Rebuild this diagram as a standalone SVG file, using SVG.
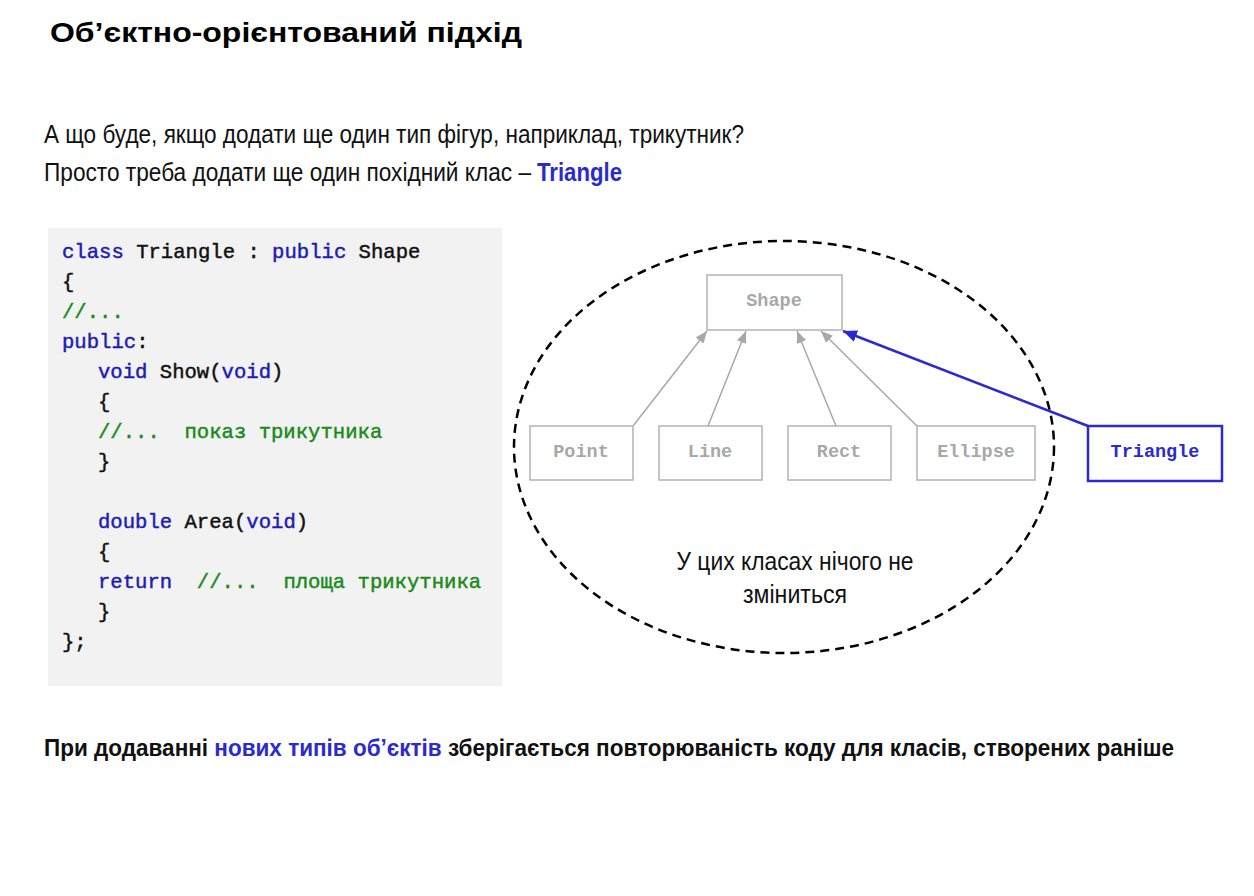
<svg xmlns="http://www.w3.org/2000/svg" width="1254" height="896" viewBox="0 0 1254 896">
<style>
.sans{font-family:"Liberation Sans",Arial,sans-serif}
.mono{font-family:"Liberation Mono","Courier New",monospace;font-size:20.6px}
.kw{fill:#1c1cb4;stroke:#1c1cb4;stroke-width:0.45}
.cm{fill:#1a8a1a;stroke:#1a8a1a;stroke-width:0.45}
.tx{fill:#111;stroke:#111;stroke-width:0.45}
.box{fill:#fff;stroke:#b3b3b3;stroke-width:1.5}
.lbl{font-family:"Liberation Mono","Courier New",monospace;font-size:18.5px;font-weight:bold;fill:#a8a8a8;text-anchor:middle}
.inh{stroke:#a8a8a8;stroke-width:1.5;fill:none}
</style>
<defs>
<marker id="ag" viewBox="0 0 12 10" refX="12" refY="5" markerWidth="12" markerHeight="10" markerUnits="userSpaceOnUse" orient="auto">
<path d="M0,0 L12,5 L0,10 z" fill="#a8a8a8"/>
</marker>
<marker id="ab" viewBox="0 0 14 12" refX="14" refY="6" markerWidth="14" markerHeight="12" markerUnits="userSpaceOnUse" orient="auto">
<path d="M0,0 L14,6 L0,12 z" fill="#2a2ad0"/>
</marker>
</defs>
<rect width="1254" height="896" fill="#fff"/>
<g id="title">
<text class="sans" x="50" y="42" font-size="28" font-weight="bold" fill="#000" textLength="472" lengthAdjust="spacingAndGlyphs">Об’єктно-орієнтований підхід</text>
</g>
<g id="intro">
<text class="sans" x="44" y="143" font-size="25" fill="#111" textLength="700" lengthAdjust="spacingAndGlyphs">А що буде, якщо додати ще один тип фігур, наприклад, трикутник?</text>
<text class="sans" x="44" y="181" font-size="25" fill="#111" textLength="487" lengthAdjust="spacingAndGlyphs">Просто треба додати ще один похідний клас –</text>
<text class="sans" x="537" y="181" font-size="25" fill="#2a2ad0" font-weight="bold" textLength="85" lengthAdjust="spacingAndGlyphs">Triangle</text>
</g>
<g id="code">
<rect x="48" y="228" width="454" height="458" fill="#f2f2f2"/>
<text class="mono" x="62" y="258" xml:space="preserve"><tspan class="kw">class</tspan><tspan class="tx"> Triangle : </tspan><tspan class="kw">public</tspan><tspan class="tx"> Shape</tspan></text>
<text class="mono tx" x="62" y="288">{</text>
<text class="mono cm" x="62" y="318">//...</text>
<text class="mono" x="62" y="348"><tspan class="kw">public</tspan><tspan class="tx">:</tspan></text>
<text class="mono" x="98" y="378" xml:space="preserve"><tspan class="kw">void</tspan><tspan class="tx"> Show(</tspan><tspan class="kw">void</tspan><tspan class="tx">)</tspan></text>
<text class="mono tx" x="98" y="408">{</text>
<text class="mono cm" x="98" y="438" xml:space="preserve">//...  показ трикутника</text>
<text class="mono tx" x="98" y="468">}</text>
<text class="mono" x="98" y="528" xml:space="preserve"><tspan class="kw">double</tspan><tspan class="tx"> Area(</tspan><tspan class="kw">void</tspan><tspan class="tx">)</tspan></text>
<text class="mono tx" x="98" y="558">{</text>
<text class="mono" x="98" y="588" xml:space="preserve"><tspan class="kw">return</tspan><tspan class="cm">  //...  площа трикутника</tspan></text>
<text class="mono tx" x="98" y="618">}</text>
<text class="mono tx" x="62" y="648">};</text>
</g>
<g id="boundary">
<ellipse cx="784" cy="447" rx="270" ry="206" fill="none" stroke="#000" stroke-width="2.5" stroke-dasharray="9,6"/>
<text class="sans" x="795" y="570" font-size="25" fill="#111" text-anchor="middle" textLength="237" lengthAdjust="spacingAndGlyphs">У цих класах нічого не</text>
<text class="sans" x="795" y="603" font-size="25" fill="#111" text-anchor="middle" textLength="104" lengthAdjust="spacingAndGlyphs">зміниться</text>
</g>
<g id="connectors">
<line class="inh" x1="633" y1="426" x2="707" y2="331" marker-end="url(#ag)"/>
<line class="inh" x1="708" y1="426" x2="746" y2="331" marker-end="url(#ag)"/>
<line class="inh" x1="836" y1="426" x2="797" y2="331" marker-end="url(#ag)"/>
<line class="inh" x1="917" y1="426" x2="821" y2="331" marker-end="url(#ag)"/>
<line x1="1088" y1="426" x2="843" y2="331" stroke="#2a2ad0" stroke-width="2.5" marker-end="url(#ab)"/>
</g>
<g id="shape">
<rect class="box" x="707" y="275" width="135" height="55"/>
<text class="lbl" x="774" y="306">Shape</text>
</g>
<g id="point">
<rect class="box" x="530" y="426" width="103" height="54"/>
<text class="lbl" x="581" y="457">Point</text>
</g>
<g id="line">
<rect class="box" x="659" y="426" width="103" height="54"/>
<text class="lbl" x="710" y="457">Line</text>
</g>
<g id="rect">
<rect class="box" x="788" y="426" width="103" height="54"/>
<text class="lbl" x="839" y="457">Rect</text>
</g>
<g id="ellipse">
<rect class="box" x="917" y="426" width="118" height="54"/>
<text class="lbl" x="976" y="457">Ellipse</text>
</g>
<g id="triangle">
<rect x="1088" y="426" width="134" height="55" fill="#fff" stroke="#2a2ad0" stroke-width="2.5"/>
<text class="lbl" x="1155" y="457" style="fill:#2a2ad0">Triangle</text>
</g>
<g id="conclusion">
<text class="sans" x="44" y="756" font-size="24" font-weight="bold" fill="#111" textLength="1130" lengthAdjust="spacingAndGlyphs">При додаванні <tspan fill="#2a2ad0">нових типів об’єктів</tspan> зберігається повторюваність коду для класів, створених раніше</text>
</g>
</svg>
